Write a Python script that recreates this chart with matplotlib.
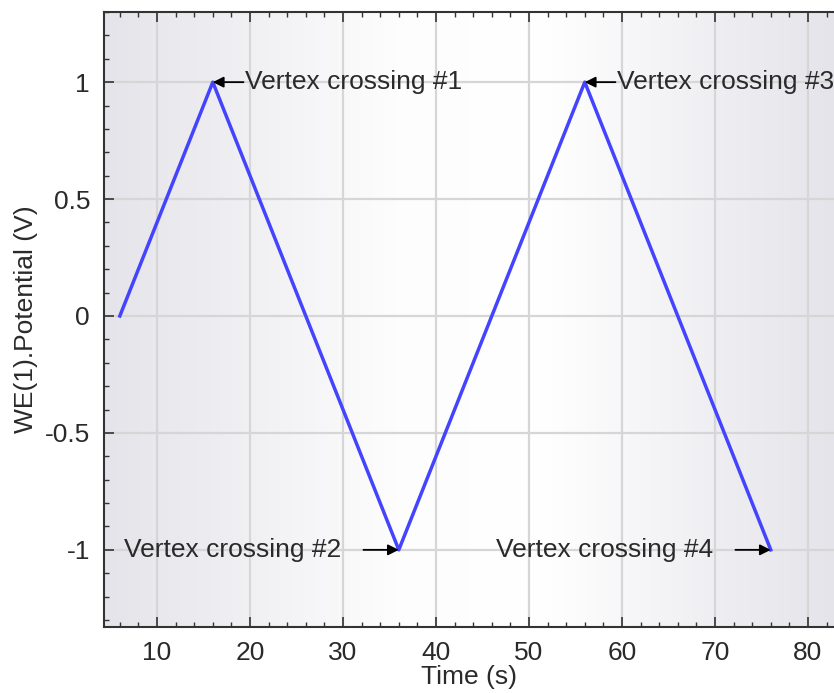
import numpy as np
import matplotlib.pyplot as plt
from matplotlib.colors import LinearSegmentedColormap

plt.rcParams['font.family'] = ['Liberation Sans', 'DejaVu Sans']
plt.rcParams['axes.unicode_minus'] = False

# potential sweep vertices
time_s = [6, 16, 36, 56, 76]
potential_v = [0, 1, -1, 1, -1]

# vertex annotations
labels = ["Vertex crossing #1", "Vertex crossing #2", "Vertex crossing #3", "Vertex crossing #4"]
vertex_x = [16, 36, 56, 76]
vertex_y = [1, -1, 1, -1]

xticks = [10, 20, 30, 40, 50, 60, 70, 80]
yticks = [-1, -0.5, 0, 0.5, 1]
ytick_labels = ["-1", "-0.5", "0", "0.5", "1"]

fs = 19
txt = '#2a2a2a'

fig = plt.figure(figsize=(8.34, 6.93), dpi=100)
ax = fig.add_axes([0.1247, 0.0952, 0.8753, 0.8875])
ax.set_xlim(4.3, 82.8)
ax.set_ylim(-1.33, 1.30)

# background gradient, grey at the sides, white in the middle
bg = LinearSegmentedColormap.from_list("bg", [(0, "#e4e4ea"), (0.4, "#fdfdfd"), (0.6, "#ffffff"), (1, "#e4e4ea")])
grad = np.linspace(0, 1, 256).reshape(1, -1)
ax.imshow(grad, cmap=bg, aspect='auto', extent=[4.3, 82.8, -1.33, 1.30], zorder=0)

ax.set_xticks(xticks)
ax.set_yticks(yticks)
ax.set_yticklabels(ytick_labels)
ax.set_xticks(np.arange(6, 83, 2), minor=True)
ax.set_yticks(np.arange(-1.3, 1.31, 0.1), minor=True)
ax.grid(True, which='major', color='#d6d6d6', linewidth=1.6, zorder=1)
ax.set_axisbelow(True)

ax.plot(time_s, potential_v, color='#4444ff', linewidth=2.5, zorder=3)

for i in range(4):
    x, y = vertex_x[i], vertex_y[i]
    if y > 0:
        ax.text(x + 3.5, y, labels[i], ha='left', va='center', fontsize=fs, color=txt, zorder=4)
        ax.annotate('', xy=(x, y), xytext=(x + 3.3, y),
                    arrowprops=dict(arrowstyle='-|>', color='black', lw=1.3, shrinkA=0, shrinkB=0, mutation_scale=16))
    else:
        ax.text(x - 6.2, y, labels[i], ha='right', va='center', fontsize=fs, color=txt, zorder=4)
        ax.annotate('', xy=(x, y), xytext=(x - 3.8, y),
                    arrowprops=dict(arrowstyle='-|>', color='black', lw=1.3, shrinkA=0, shrinkB=0, mutation_scale=16))

ax.tick_params(which='both', direction='in', top=True, right=False, labelsize=fs, labelcolor=txt, color='#333333')
ax.tick_params(which='major', length=7, width=1.2, pad=10)
ax.tick_params(which='minor', length=3.5, width=1)
for s in ['left', 'top', 'bottom']:
    ax.spines[s].set_color('#333333')
    ax.spines[s].set_linewidth(1.5)
ax.spines['right'].set_visible(False)

ax.set_xlabel("Time (s)", fontsize=fs, color=txt, labelpad=0)
ax.set_ylabel("WE(1).Potential (V)", fontsize=fs, color=txt, labelpad=5)

fig.savefig("out.png", dpi=100)
